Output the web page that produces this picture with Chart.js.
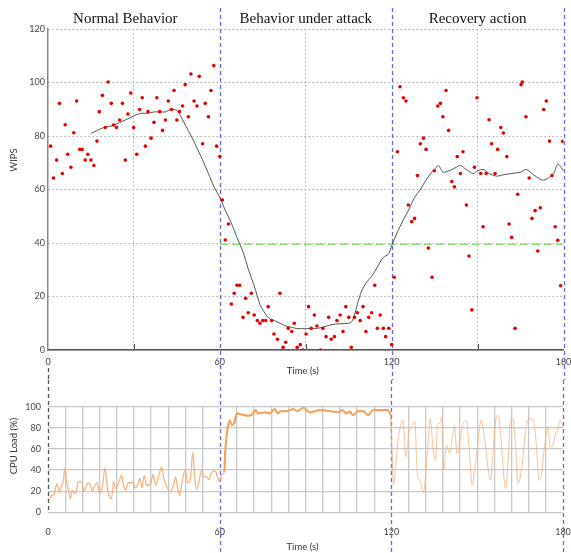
<!DOCTYPE html>
<html>
<head>
<meta charset="utf-8">
<script src="https://cdn.jsdelivr.net/npm/chart.js@4"></script>
<style>
  body { margin: 0; background: #fff; }
  #wrap { position: relative; width: 571px; height: 553px; }
  #wips-chart { position: absolute; left: 0; top: 0; }
  #cpu-chart { position: absolute; left: 0; top: 380px; }
</style>
</head>
<body>
<div id="wrap">
  <canvas id="wips-chart" width="571" height="380"></canvas>
  <canvas id="cpu-chart" width="571" height="173"></canvas>
</div>
<script>
// WIPS samples (red dots)
const wipsTime = [
  0.9, 1.9, 3.0, 4.0, 5.0, 6.0, 6.9, 8.0, 9.0, 10.0, 11.1, 11.9, 13.0, 13.9, 15.0, 16.0, 17.1, 17.9, 19.0, 20.0,
  21.0, 22.1, 22.9, 23.9, 25.0, 26.0, 27.0, 27.9, 28.9, 29.9, 31.0, 32.0, 32.9, 34.0, 34.9, 36.0, 37.0, 38.0, 39.0, 40.0,
  41.0, 42.0, 43.1, 44.0, 45.0, 45.9, 47.0, 47.9, 49.0, 49.9, 51.0, 52.0, 52.8, 54.0, 54.9, 56.0, 56.9, 57.9, 58.9, 60.0,
  60.9, 61.9, 63.0, 64.0, 65.0, 66.0, 66.9, 68.1, 69.0, 69.9, 71.0, 72.0, 73.1, 74.0, 75.0, 76.0, 76.9, 78.1, 78.9, 80.1,
  81.0, 82.1, 83.0, 83.9, 85.1, 86.0, 87.0, 88.1, 89.0, 90.1, 91.0, 91.9, 93.0, 93.9, 95.1, 96.0, 97.1, 98.0, 98.9, 100.0,
  100.9, 102.0, 103.0, 104.0, 105.0, 105.9, 107.0, 108.0, 109.0, 110.0, 111.0, 112.0, 113.0, 114.1, 115.0, 116.0, 117.1, 117.9, 119.0, 120.0,
  120.9, 122.0, 122.9, 124.1, 125.0, 125.8, 127.0, 128.0, 129.0, 130.0, 131.1, 132.0, 132.8, 134.1, 134.9, 136.1, 137.0, 137.9, 139.0, 139.9,
  141.0, 141.9, 142.9, 144.0, 144.9, 146.1, 147.0, 148.0, 148.9, 149.8, 151.1, 151.9, 153.0, 154.0, 154.9, 156.1, 157.0, 158.1, 159.0, 160.2,
  161.0, 161.9, 163.1, 164.0, 165.2, 165.6, 166.9, 168.0, 169.0, 170.1, 171.0, 171.9, 173.1, 174.0, 175.1, 176.0, 177.1, 178.0, 179.0, 179.7
];
const wipsValue = [
  76.2, 64.3, 71.0, 92.2, 66.0, 84.2, 73.2, 68.3, 81.2, 93.1, 75.0, 75.0, 71.0, 73.2, 71.0, 69.0, 78.1, 89.1, 95.2, 83.2,
  100.2, 92.2, 84.1, 83.2, 86.0, 92.2, 71.0, 88.2, 96.1, 83.2, 73.2, 89.9, 94.3, 76.2, 89.1, 79.2, 85.1, 94.3, 89.1, 82.1,
  86.0, 93.1, 89.9, 97.0, 86.0, 89.1, 91.2, 99.2, 87.2, 103.2, 93.1, 91.2, 102.3, 77.1, 92.2, 87.2, 97.0, 106.3, 76.2, 72.3,
  56.1, 41.1, 47.1, 17.2, 21.2, 24.2, 24.2, 12.2, 19.3, 13.9, 21.2, 13.1, 11.0, 10.0, 11.0, 11.0, 16.2, 11.0, 6.0, 4.0,
  21.2, 1.0, 2.9, 8.1, 6.9, 10.0, 1.0, 2.0, 0.0, 6.0, 16.2, 8.1, 13.1, 9.0, 0.0, 8.1, 5.0, 12.2, 4.0, 5.0,
  11.0, 13.1, 6.9, 16.2, 12.2, 1.0, 12.2, 13.9, 11.0, 16.2, 6.9, 12.2, 13.9, 24.2, 8.1, 13.1, 8.1, 5.0, 8.1, 2.0,
  27.2, 74.1, 98.4, 94.3, 93.1, 54.2, 48.0, 49.2, 65.2, 77.1, 79.2, 75.0, 38.1, 27.2, 67.0, 91.2, 92.2, 87.2, 97.0, 82.1,
  63.0, 61.0, 72.3, 66.0, 74.1, 54.2, 35.1, 15.0, 68.3, 94.3, 66.0, 46.1, 66.0, 86.1, 77.1, 66.0, 75.0, 83.2, 81.1, 72.3,
  47.1, 42.1, 8.1, 58.2, 99.2, 100.2, 87.2, 64.3, 49.2, 52.1, 37.0, 53.2, 89.9, 93.1, 78.1, 65.2, 46.1, 41.0, 24.0, 78.0
];

// smoothed WIPS (gray line)
const avgTime = [15, 17, 19, 21, 23, 25, 27, 29, 31, 33, 35, 37, 39, 41, 43, 45, 46, 47, 48, 50,
  52, 54, 56, 58, 60, 62, 64, 66, 68, 70, 72, 74, 75, 77, 79, 81, 83, 85, 87, 90,
  93, 96, 99, 102, 105, 106, 107, 108, 109.5, 111, 113, 115, 117, 119, 120, 122, 124, 126, 128, 130,
  132, 134, 135, 136.3, 138, 140, 142, 144, 146, 148.5, 150, 152, 154, 156.7, 159, 162, 165, 167, 169.5, 173,
  176.5, 178, 180];
const avgValue = [81, 82, 83, 83.5, 84, 85, 86, 87, 88, 88.5, 88.5, 89, 89, 89, 90, 89.5, 88, 86, 84, 80,
  75.5, 71, 66, 61, 57, 52, 47.5, 42, 37, 30, 24, 17, 15, 12, 11, 10, 9, 8.5, 8, 8,
  8, 8.5, 9.5, 9.8, 10, 10.5, 13, 17, 22, 25, 27.5, 31, 34.5, 36, 39, 44, 48.5, 52.5, 57, 60,
  63.5, 66.5, 67.5, 69, 66.5, 67, 68, 69, 67.5, 66, 67, 67.5, 66, 65, 65.5, 66, 66.5, 67.5, 65.5, 63.5,
  66, 69.5, 67];

// CPU load (orange line)
const cpuTime = [0.3, 1.3, 2.2, 3.1, 4, 4.8, 5.4, 5.9, 6.5, 7.1, 7.8, 8.5, 9.2, 10, 10.6, 11.8, 12.5, 13.2, 14.1, 14.8,
  15.5, 16.4, 17.3, 18, 19, 19.9, 20.6, 21.3, 22.2, 22.9, 23.6, 24.6, 25.7, 26.4, 27.1, 28.1, 29, 29.8, 30.4, 31.3,
  32.1, 32.9, 33.6, 34.5, 35.3, 36, 36.8, 37.6, 38.5, 39.7, 40.5, 41.1, 42, 42.9, 43.8, 44.6, 45.3, 46, 46.9, 47.9,
  48.8, 49.7, 50.6, 51.3, 51.9, 52.7, 53.7, 54.6, 55.5, 56.2, 57.2, 58.5, 59.2, 59.9, 60.8, 61.6, 62, 62.7, 63.5, 64.3,
  65, 66, 67.6, 70, 71.4, 72.5, 73.4, 75.8, 77.5, 79.3, 80.2, 81.6, 83.9, 85.7, 87.2, 89.2, 91.5, 95, 98.5, 101.4,
  102.9, 104.3, 105.5, 106.6, 108.4, 110.1, 111.9, 113.6, 116.5, 118.5, 119.7, 120.4, 120.8, 121.5, 122.3, 123.2, 124.1, 125, 126.2, 127.6,
  128.2, 129, 129.9, 131.3, 132.2, 132.8, 133.6, 134.6, 135.5, 136.1, 136.9, 137.7, 138.4, 139.2, 140.4, 141.3, 142.1, 142.9, 143.9, 145,
  146.2, 147.1, 148.3, 149.1, 150.3, 151.4, 152.6, 153.8, 154.6, 155.5, 156.4, 157.3, 158.2, 159, 159.9, 160.8, 161.6, 162.5, 163.4, 164.2,
  165.1, 166, 166.9, 168.1, 169.5, 170.6, 171.6, 172.4, 173.6, 174.7, 175.5, 176.5, 177.4, 178.2, 179, 180];
const cpuLoad = [13, 16, 17.7, 27, 19, 25.6, 30, 42, 29, 21, 13, 21, 17.7, 21, 29, 29, 19, 24, 28, 25.6,
  20, 25.6, 28, 17.7, 24, 42, 27, 16, 13, 29, 22.5, 27, 35, 25.6, 21, 28, 28, 28, 23, 25.6,
  32, 23, 35, 25.6, 25.6, 28, 35.8, 25.6, 32, 43, 32, 27, 21.8, 19.3, 25.6, 33.5, 22.5, 16, 29, 40,
  28, 30, 57, 32, 21.8, 28, 40, 33.5, 33.5, 31, 38, 39, 33.5, 29.4, 36, 38, 60, 78, 87, 82.6,
  84, 93.7, 92.7, 91.5, 92.7, 96.8, 93.7, 94.6, 93.7, 97.8, 93.7, 95.9, 95.9, 97.8, 95.9, 99, 94.6, 96.8, 95.9, 94.6,
  96.8, 93.7, 95.3, 92, 95.9, 95.9, 92, 96.8, 96.8, 96.8, 92, 41, 25.6, 43, 66.8, 82, 87.3, 52.5, 76.3, 83.2,
  85.8, 40, 30.4, 19.3, 43, 63.6, 88.3, 60.4, 49.4, 82.6, 84.2, 90.5, 40, 63.6, 55.7, 70, 82, 55.7, 66.8, 82.6,
  87.3, 63.6, 25.6, 40, 66.8, 87.3, 70, 41.5, 30.4, 55.7, 85.8, 92, 74.7, 44.6, 22.5, 47.8, 85.8, 89, 63.6, 27.2,
  33.5, 51, 76.3, 88.3, 88.3, 66.8, 30.4, 35, 63.6, 81, 62, 63.6, 74.7, 79.4, 87.3, 79.4];

const attackThreshold = 39.5;
const phaseBounds = [60, 120, 180];
const phaseNames = ['Normal Behavior', 'Behavior under attack', 'Recovery action'];
const phaseCenters = [27, 90, 150];

const toPoints = (xs, ys) => xs.map((x, i) => ({x: x, y: ys[i]}));
const tickFont = {family: 'Lato', size: 9};

// dashed phase dividers + the dashed line at t=0
function drawDividers(chart, fromY, zeroFrom, zeroTo) {
  const ctx = chart.ctx;
  const x = chart.scales.x;
  ctx.save();
  ctx.lineWidth = 1.3;
  ctx.setLineDash([4, 3]);
  ctx.strokeStyle = 'rgb(105,105,230)';
  phaseBounds.forEach(v => {
    const px = Math.round(x.getPixelForValue(v)) + 0.5;
    ctx.beginPath();
    ctx.moveTo(px, fromY);
    ctx.lineTo(px, chart.height);
    ctx.stroke();
  });
  ctx.strokeStyle = '#555';
  const x0 = Math.round(x.getPixelForValue(0)) + 0.5;
  ctx.beginPath();
  ctx.moveTo(x0, zeroFrom);
  ctx.lineTo(x0, zeroTo);
  ctx.stroke();
  ctx.restore();
}

function drawRotated(ctx, text, x, y) {
  ctx.save();
  ctx.translate(x, y);
  ctx.rotate(-Math.PI / 2);
  ctx.fillText(text, 0, 0);
  ctx.restore();
}

const wipsDecor = {
  id: 'wipsDecor',
  beforeDatasetsDraw(chart) {
    const {ctx, chartArea, scales: {x}} = chart;
    ctx.save();
    ctx.strokeStyle = '#555';
    ctx.lineWidth = 1.2;
    [30, 90, 150].forEach(v => {
      const px = Math.round(x.getPixelForValue(v)) + 0.5;
      ctx.beginPath();
      ctx.moveTo(px, chartArea.bottom);
      ctx.lineTo(px, chartArea.bottom - 6);
      ctx.stroke();
    });
    ctx.restore();
    drawDividers(chart, 8, chartArea.bottom + 18, chart.height);
  },
  afterDraw(chart) {
    const {ctx, chartArea, scales: {x}} = chart;
    ctx.save();
    ctx.fillStyle = '#111';
    ctx.font = '15px "Liberation Serif"';
    ctx.textAlign = 'center';
    ctx.textBaseline = 'middle';
    phaseNames.forEach((name, i) => ctx.fillText(name, x.getPixelForValue(phaseCenters[i]), 19));
    ctx.fillStyle = '#333';
    ctx.font = '9.5px Lato';
    ctx.fillText('Time (s)', (chartArea.left + chartArea.right) / 2 - 3, chartArea.bottom + 21);
    drawRotated(ctx, 'WIPS', 14, 160);
    ctx.restore();
  }
};

const cpuDecor = {
  id: 'cpuDecor',
  beforeDatasetsDraw(chart) {
    drawDividers(chart, 0, 0, chart.chartArea.bottom);
  },
  afterDraw(chart) {
    const {ctx, chartArea} = chart;
    ctx.save();
    ctx.fillStyle = '#333';
    ctx.font = '9.5px Lato';
    ctx.textAlign = 'center';
    ctx.textBaseline = 'middle';
    ctx.fillText('Time (s)', (chartArea.left + chartArea.right) / 2 - 3, chartArea.bottom + 35);
    drawRotated(ctx, 'CPU Load (%)', 14, 66);
    ctx.restore();
  }
};

new Chart(document.getElementById('wips-chart'), {
  type: 'scatter',
  data: {
    datasets: [
      {
        label: 'WIPS',
        data: toPoints(wipsTime, wipsValue),
        pointRadius: 1.8,
        pointBackgroundColor: 'rgb(230,0,0)',
        pointBorderWidth: 0
      },
      {
        label: 'WIPS (smoothed)',
        type: 'line',
        data: toPoints(avgTime, avgValue),
        borderColor: '#555',
        borderWidth: 1,
        pointRadius: 0,
        tension: 0.3
      },
      {
        label: 'Threshold',
        type: 'line',
        data: [{x: phaseBounds[0], y: attackThreshold}, {x: phaseBounds[2], y: attackThreshold}],
        borderColor: 'rgb(140,225,120)',
        borderWidth: 1.5,
        borderDash: [8, 4],
        pointRadius: 0
      }
    ]
  },
  options: {
    responsive: false,
    devicePixelRatio: 1,
    animation: false,
    layout: {padding: {left: 0, right: 7.5, top: 29, bottom: 0}},
    plugins: {legend: {display: false}, tooltip: {enabled: false}},
    scales: {
      x: {
        type: 'linear',
        min: 0,
        max: 180,
        ticks: {
          stepSize: 30,
          autoSkip: false,
          maxRotation: 0,
          padding: 7,
          color: '#444',
          font: tickFont,
          callback: v => (v % 60 === 0 ? v : '')
        },
        grid: {
          drawTicks: false,
          color: c => (c.tick && c.tick.value % 60 === 0 ? 'rgba(0,0,0,0)' : '#aaa'),
          lineWidth: 1
        },
        border: {color: '#555', width: 1.5, dash: [1.5, 2.5]},
        afterFit: s => { s.height = 30; s.paddingLeft = 0; s.paddingRight = 0; }
      },
      y: {
        min: 0,
        max: 120,
        ticks: {stepSize: 20, padding: 3, color: '#444', font: tickFont},
        grid: {drawTicks: false, color: '#aaa', lineWidth: 1},
        border: {color: '#888', width: 1.5, dash: [1.5, 2.5]},
        afterFit: s => { s.width = 48; s.paddingTop = 0; s.paddingBottom = 0; }
      }
    }
  },
  plugins: [wipsDecor]
});

const inAttack = c => c.p0.parsed.x >= phaseBounds[0] + 1 && c.p1.parsed.x <= phaseBounds[1];

new Chart(document.getElementById('cpu-chart'), {
  type: 'line',
  data: {
    datasets: [{
      label: 'CPU Load (%)',
      data: toPoints(cpuTime, cpuLoad),
      borderColor: 'rgba(244,170,110,0.8)',
      borderWidth: 1.2,
      pointRadius: 0,
      cubicInterpolationMode: 'monotone',
      segment: {
        borderWidth: c => (inAttack(c) ? 2.2 : c.p0.parsed.x >= phaseBounds[1] ? 1 : 1.3),
        borderColor: c => (inAttack(c) ? 'rgb(244,165,100)' : c.p0.parsed.x >= phaseBounds[1] ? 'rgba(244,175,125,0.75)' : 'rgba(244,168,110,0.85)')
      }
    }]
  },
  options: {
    responsive: false,
    devicePixelRatio: 1,
    animation: false,
    layout: {padding: {left: 0, right: 8, top: 26.7, bottom: 0}},
    plugins: {legend: {display: false}, tooltip: {enabled: false}},
    scales: {
      x: {
        type: 'linear',
        min: 0,
        max: 180,
        ticks: {
          stepSize: 6,
          autoSkip: false,
          maxRotation: 0,
          padding: 14,
          color: '#444',
          font: tickFont,
          callback: v => (v % 60 === 0 ? v : '')
        },
        grid: {
          drawTicks: false,
          color: c => (c.tick && c.tick.value % 60 === 0 ? 'rgba(0,0,0,0)' : '#c8c8c8'),
          lineWidth: 1.3
        },
        border: {display: false},
        afterFit: s => { s.height = 40.7; s.paddingLeft = 0; s.paddingRight = 0; }
      },
      y: {
        min: 0,
        max: 100,
        ticks: {stepSize: 20, padding: 7, color: '#444', font: tickFont},
        grid: {drawTicks: false, color: '#c8c8c8', lineWidth: 1.3},
        border: {display: false},
        afterFit: s => { s.width = 48; s.paddingTop = 0; s.paddingBottom = 0; }
      }
    }
  },
  plugins: [cpuDecor]
});
</script>
</body>
</html>
